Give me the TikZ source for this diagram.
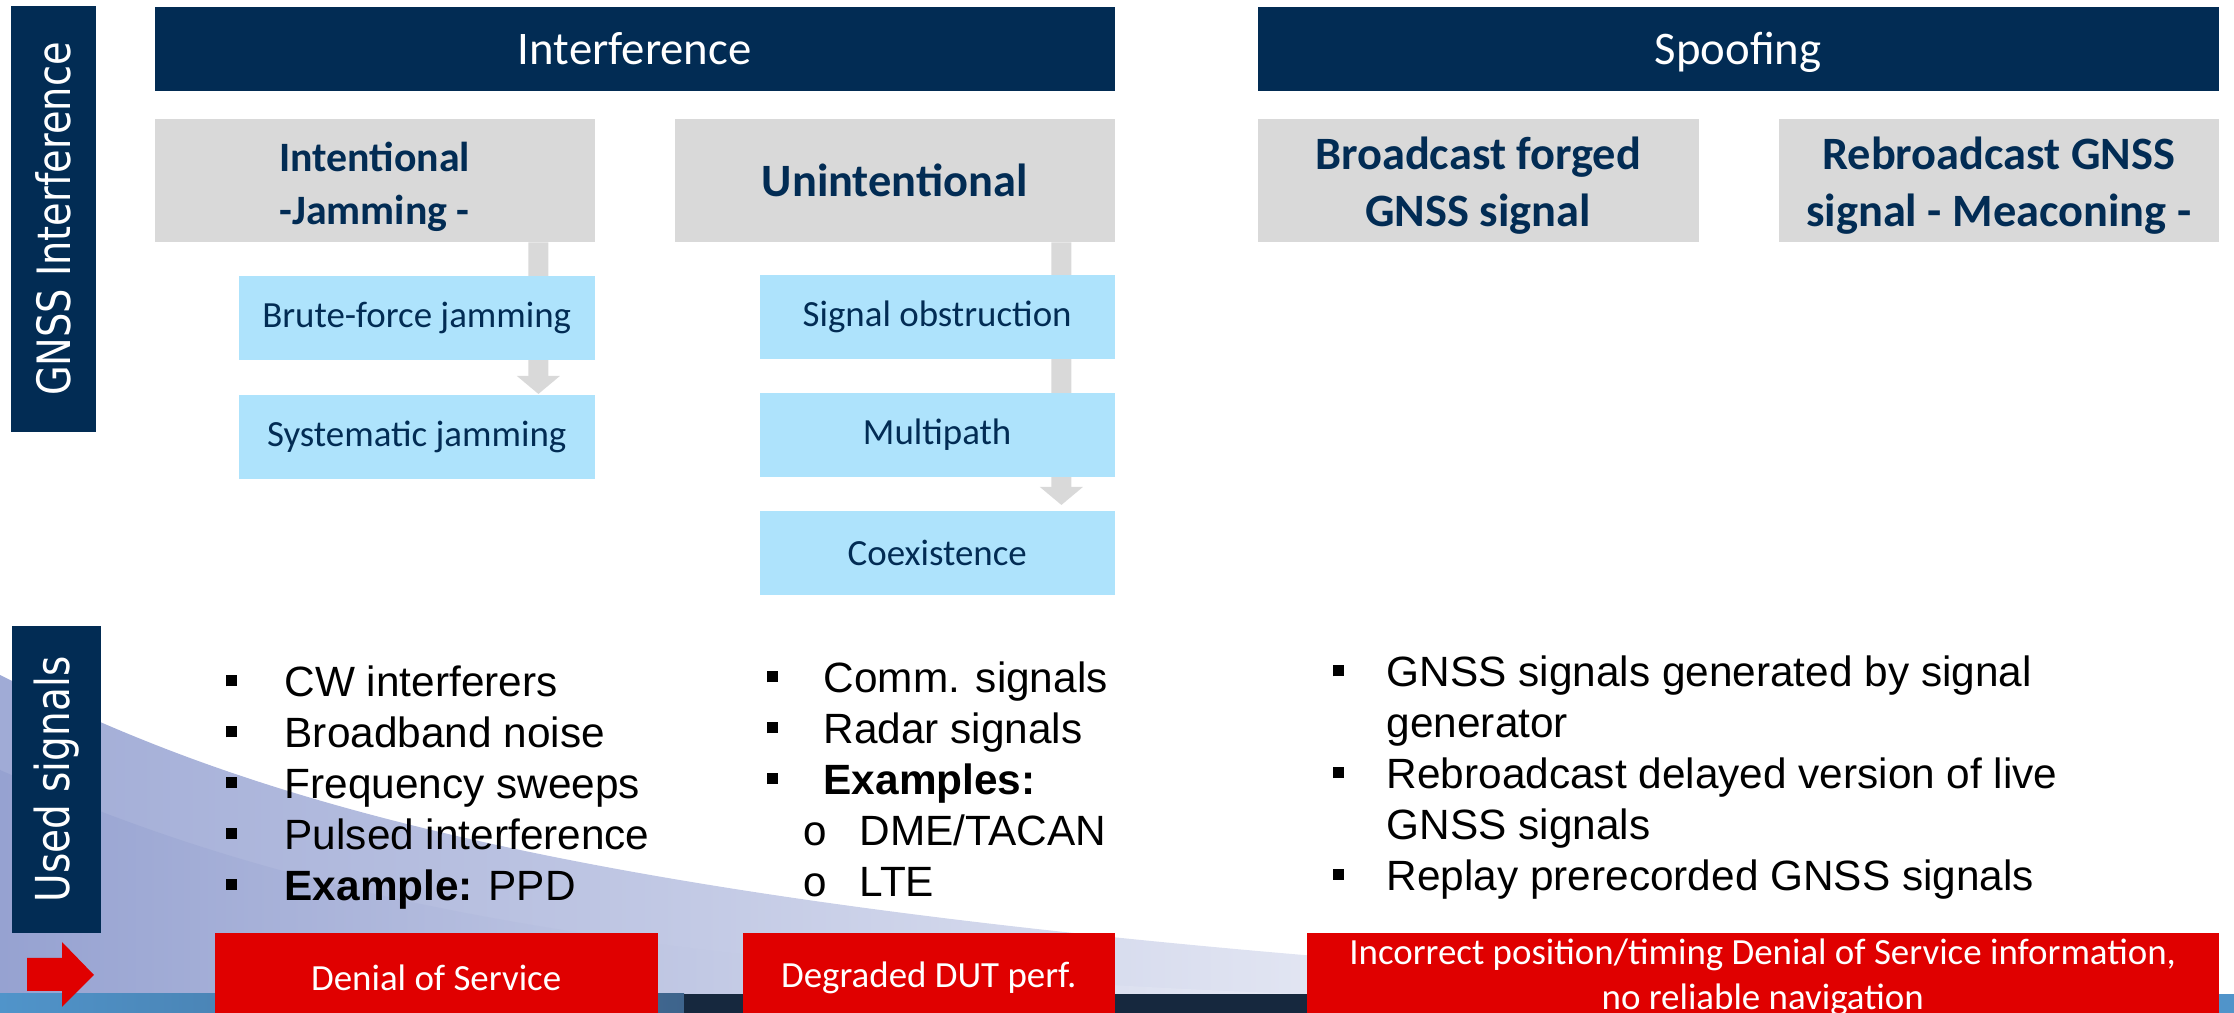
\documentclass[tikz,border=0pt]{standalone}
\usepackage{fontspec}
\setmainfont{Carlito}
\newfontfamily\arialf{Liberation Sans}
\newfontfamily\verdf{DejaVu Sans}
\newfontfamily\courf{Liberation Mono}
\usetikzlibrary{arrows.meta, positioning, backgrounds}
\definecolor{navy}{HTML}{022C54}
\definecolor{graybox}{HTML}{D9D9D9}
\definecolor{lblue}{RGB}{174,227,252}
\definecolor{redc}{RGB}{224,0,0}
\definecolor{lavA}{RGB}{160,171,214}
\definecolor{lavB}{RGB}{150,162,209}
\definecolor{stripl}{RGB}{80,148,202}
\definecolor{stripm}{RGB}{62,100,140}
\definecolor{stripd}{RGB}{22,40,62}
\newcommand{\sqb}[1]{\makebox[#1][l]{\rule[1.05mm]{1.1mm}{1.1mm}}}
\newcommand{\cib}{\makebox[9.3mm][l]{\hspace*{3.6mm}{\courf o}}}
\newcommand{\tstr}{\rule{0pt}{4.3mm}}

\begin{document}
\begin{tikzpicture}[x=0.1mm, y=-0.1mm,
    hdr/.style={fill=navy, text=white, anchor=north west, inner sep=0pt, minimum width=#1, minimum height=8.4mm, text height=0.9em, text depth=0pt, font=\fontsize{13.3}{16}\selectfont},
    catbox/.style={fill=graybox, text=navy, anchor=north west, inner sep=0pt, align=center, minimum width=#1, minimum height=12.3mm, font=\bfseries\fontsize{13.2}{16.2}\selectfont},
    subbox/.style={fill=lblue, text=navy, anchor=north west, inner sep=0pt, minimum width=35.6mm, minimum height=8.45mm, font=\fontsize{10.5}{12.6}\selectfont},
    vbar/.style={fill=navy, text=white, rotate=90, inner sep=0pt, font=\verdf\fontsize{10.9}{12}\selectfont},
    resbox/.style={fill=redc, text=white, anchor=north west, inner sep=0pt, align=center, minimum width=#1, minimum height=9mm, font=\fontsize{10.5}{12.8}\selectfont},
    lst/.style={anchor=base west, inner sep=0pt, font=\arialf\fontsize{12.05}{14.45}\selectfont},
    flow/.style={draw=graybox, line width=2mm, -{Triangle[width=4.2mm, length=1.8mm]}}]
    \useasboundingbox (0,0) rectangle (2234,1013);
    \shade[left color=lavA, right color=white] (0,675) .. controls (250,800) and (600,930) .. (1900,994) -- (0,994) -- cycle;
    \shade[left color=lavB, right color=lavA!25] (0,770) .. controls (250,880) and (550,965) .. (1300,994) -- (0,994) -- cycle;
    \shade[left color=stripl, right color=stripm] (0,994) rectangle (684,1013);
    \fill[stripd] (684,994) rectangle (2218,1013);
    \fill[stripl] (2218,994) rectangle (2234,1013);

    \node[vbar, minimum width=42.6mm, minimum height=8.5mm] (gnssbar) at (53.5,219) {\scalebox{1}[1.2]{GNSS Interference}};
    \node[vbar, minimum width=30.7mm, minimum height=8.9mm, font=\verdf\fontsize{11.1}{12}\selectfont] (usedbar) at (56.5,779.5) {\scalebox{1}[1.2]{Used signals}};

    \node[hdr=96mm] (intfhdr) at (154,6) {Interference};
    \node[hdr=96.1mm] (spoofhdr) at (1257,6) {Spoofing};

    \node[catbox=44mm, font=\bfseries\fontsize{11.9}{15}\selectfont] (intent) at (154,118) {\tstr Intentional\\-Jamming -};
    \node[catbox=44mm] (unint) at (674,118) {Unintentional};
    \node[catbox=44.1mm] (broad) at (1257,118) {\tstr Broadcast forged\\GNSS signal};
    \node[catbox=44mm] (rebroad) at (1778,118) {\tstr Rebroadcast GNSS\\signal - Meaconing -};

    \node[subbox] (brute) at (238,275) {Brute-force jamming};
    \node[subbox] (syst) at (238,394) {Systematic jamming};
    \node[subbox, minimum width=35.5mm] (sigobs) at (759,274) {Signal obstruction};
    \node[subbox, minimum width=35.5mm] (multi) at (759,392) {Multipath};
    \node[subbox, minimum width=35.5mm] (coex) at (759,510) {Coexistence};

    \begin{scope}[on background layer]
        \draw[flow] ([xshift=-5.7mm]intent.south east) -- ([xshift=-5.7mm]syst.north east);
        \draw[flow] ([xshift=-5.4mm]unint.south east) -- ([xshift=-5.4mm, yshift=0.5mm]coex.north east);
    \end{scope}

    \node[lst] (intlist) at (225,697) {\begin{tabular}[t]{@{}l@{}}
        \sqb{5.9mm}CW interferers\\
        \sqb{5.9mm}Broadband noise\\
        \sqb{5.9mm}Frequency sweeps\\
        \sqb{5.9mm}Pulsed interference\\
        \sqb{5.9mm}\textbf{Example:} PPD
    \end{tabular}};
    \node[lst] (unintlist) at (766,693) {\begin{tabular}[t]{@{}l@{}}
        \sqb{5.7mm}Comm. signals\\
        \sqb{5.7mm}Radar signals\\
        \sqb{5.7mm}\textbf{Examples:}\\
        \cib DME/TACAN\\
        \cib LTE
    \end{tabular}};
    \node[lst] (spooflist) at (1332,687) {\begin{tabular}[t]{@{}l@{}}
        \sqb{5.4mm}GNSS signals generated by signal\\
        \hspace*{5.4mm}generator\\
        \sqb{5.4mm}Rebroadcast delayed version of live\\
        \hspace*{5.4mm}GNSS signals\\
        \sqb{5.4mm}Replay prerecorded GNSS signals
    \end{tabular}};

    \fill[redc] (27,958) -- (62,958) -- (62,942) -- (94,975) -- (62,1007) -- (62,991) -- (27,991) -- cycle;
    \node[resbox=44.3mm] (dos) at (214,932) {Denial of Service};
    \node[resbox=37.2mm] (dut) at (742,932) {Degraded DUT perf.};
    \node[resbox=91.2mm] (incorr) at (1306,932) {Incorrect position/timing Denial of Service information,\\no reliable navigation};
\end{tikzpicture}
\end{document}
